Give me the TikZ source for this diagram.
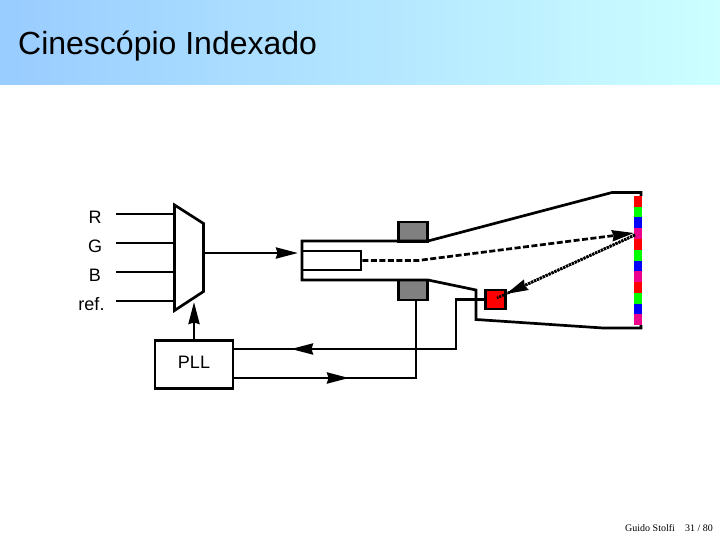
\documentclass[tikz,border=0pt]{standalone}
\usepackage{fontspec}
\setmainfont{Liberation Sans}
\newfontfamily\footfont{Liberation Serif}
\usetikzlibrary{arrows.meta}
\definecolor{headleft}{RGB}{153,204,255}
\definecolor{headright}{RGB}{204,255,255}
\tikzset{
	wire/.style={line width=2.7pt, line join=miter},
	beam/.style={line width=2.7pt, dash pattern=on 6pt off 2.5pt},
	ray/.style={line width=2.7pt, dash pattern=on 2.2pt off 1pt},
	coilbox/.style={draw, line width=2.7pt, fill=gray, minimum width=29pt, minimum height=20pt, inner sep=0pt},
	lbl/.style={font=\fontsize{18}{20}\selectfont, inner sep=0pt}
}
\begin{document}
\begin{tikzpicture}[x=1pt,y=-1pt,>={Stealth[length=22pt,width=11pt,inset=1.5pt]}, line cap=butt]
	\def\sx{634} \def\sw{8.3} % tela
	\def\sy{196} \def\sh{10.75}
	\useasboundingbox (0,0) rectangle (720,540);

	\shade[left color=headleft, right color=headright] (0,0) rectangle (720,85);
	\node[anchor=west, inner sep=0pt, font=\fontsize{32}{34}\selectfont] (title) at (18,46) {Cinescópio Indexado};

	% multiplexador
	\foreach \name/\txt/\xt/\y in {r/R/95/214, g/G/95/243, b/B/95/272, f/ref./91.5/301}{
		\coordinate (in\name) at (116,\y);
		\coordinate (mx\name) at (174.5,\y);
		\draw[wire] (in\name) -- (mx\name);
		\node[lbl] (lbl\name) at (\xt,\y+3) {\txt};
	}
	\draw[wire] (174.5,205) coordinate (muxa) -- (203.5,223.5) -- (203.5,291.5) -- (174.5,310.5) coordinate (muxd) -- cycle;
	\node[draw, line width=2.7pt, fill=white, minimum width=78pt, minimum height=47.5pt, inner sep=0pt, text depth=4pt, lbl] (pll) at (194,364.5) {PLL};
	\coordinate (muxin) at (194,302);
	\coordinate (muxout) at (203.5,253);
	\draw[wire,->] (pll.north) -- (muxin);

	% canhao e bobinas
	\node[draw, line width=2.7pt, fill=white, minimum width=59pt, minimum height=19pt, inner sep=0pt] (gun) at (331.5,260.5) {};
	\node[coilbox] (coiltop) at (413,232) {};
	\node[coilbox] (coilbot) at (413,290) {};
	\coordinate (gunin) at (298,253);
	\draw[wire,->] (muxout) -- (gunin);

	\coordinate (necka) at (428,241);
	\coordinate (neckb) at (428,280);
	\coordinate (scrtop) at (612,192.5);
	\coordinate (scrbot) at (603,328);
	\coordinate (sens) at (476,290);
	\draw[wire] (necka) -- (302,241) -- (302,280) -- (neckb) -- (sens) -- (476,319.5) -- (scrbot) -- (641,328) -- (641,325);
	\draw[wire] (necka) -- (scrtop) -- (641,192.5) -- (641,196);

	% tela
	\foreach \i/\c in {0/red,1/green,2/blue,3/magenta,4/red,5/green,6/blue,7/magenta,8/red,9/green,10/blue,11/magenta}{
		\fill[\c] (\sx,\sy+\i*\sh) rectangle (\sx+\sw,\sy+\i*\sh+\sh);
	}
	\coordinate (hit) at (634,233);

	% sensor
	\node[draw, line width=2.7pt, fill=red, minimum width=20pt, minimum height=19pt, inner sep=0pt] (sensor) at (495.5,299.5) {};
	\draw[beam,->] (gun.east) -- (418,260.5) -- (hit);
	\coordinate (sensin) at (497,298);
	\coordinate (raytip) at (506,294);
	\draw[ray] (635,235) -- (sensin);
	\draw[ray,->] (635,235) -- (raytip);

	% ligacoes do PLL
	\coordinate (bendb) at (456,299.5);
	\coordinate (bendc) at (456,349);
	\coordinate (backtip) at (291,349);
	\coordinate (pllc) at (233,349);
	\draw[wire] (sensor.west) -- (bendb) -- (bendc) -- (pllc);
	\draw[wire,->] (bendc) -- (backtip);
	\coordinate (plld) at (233,378);
	\coordinate (fwdtip) at (349,378);
	\coordinate (bende) at (416,378);
	\draw[wire] (plld) -- (bende) -- (416,300);
	\draw[wire,->] (plld) -- (fwdtip);

	\node[anchor=west, inner sep=0pt, font=\footfont\fontsize{10}{11}\selectfont] (author) at (625,528) {Guido Stolfi};
	\node[anchor=west, inner sep=0pt, font=\footfont\fontsize{10}{11}\selectfont] (page) at (685,528) {31 / 80};
\end{tikzpicture}
\end{document}
